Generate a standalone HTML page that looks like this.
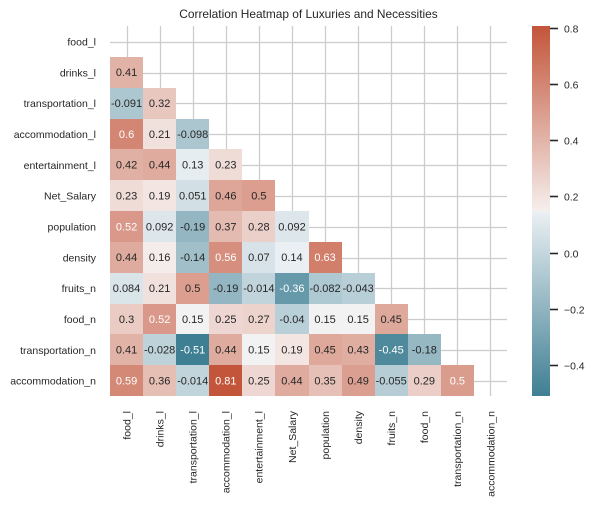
<!DOCTYPE html>
<html>
<head>
<meta charset="utf-8">
<style>
html,body{margin:0;padding:0;background:#fff;}
body{width:594px;height:506px;overflow:hidden;}
svg{display:block;font-family:"Liberation Sans",Arial,sans-serif;}
</style>
</head>
<body>
<svg id="chart" xmlns="http://www.w3.org/2000/svg" width="594" height="506" viewBox="0 0 594 506">
<defs><linearGradient id="cbar-grad" x1="0" y1="1" x2="0" y2="0"></linearGradient></defs>
<rect x="0" y="0" width="594" height="506" fill="#fff"/>
<text x="308.5" y="18" text-anchor="middle" font-size="11.9" fill="#262626">Correlation Heatmap of Luxuries and Necessities</text>
<g id="grid"></g>
<g id="cells"></g>
<g id="ylabels"></g>
<g id="xlabels"></g>
<g id="colorbar"></g>
</svg>
<script>
const categories = ["food_l","drinks_l","transportation_l","accommodation_l","entertainment_l","Net_Salary","population","density","fruits_n","food_n","transportation_n","accommodation_n"];
const row1 = [0.41];
const row2 = [-0.091,0.32];
const row3 = [0.6,0.21,-0.098];
const row4 = [0.42,0.44,0.13,0.23];
const row5 = [0.23,0.19,0.051,0.46,0.496];
const row6 = [0.52,0.092,-0.19,0.37,0.28,0.092];
const row7 = [0.44,0.16,-0.14,0.56,0.07,0.14,0.63];
const row8 = [0.084,0.21,0.496,-0.19,-0.014,-0.36,-0.082,-0.043];
const row9 = [0.3,0.52,0.15,0.25,0.27,-0.04,0.15,0.15,0.45];
const row10 = [0.41,-0.028,-0.51,0.44,0.15,0.19,0.45,0.43,-0.45,-0.18];
const row11 = [0.59,0.36,-0.014,0.81,0.25,0.44,0.35,0.49,-0.055,0.29,0.504];
const matrixRows = [row1,row2,row3,row4,row5,row6,row7,row8,row9,row10,row11];
const colorbarTicks = [-0.4,-0.2,0,0.2,0.4,0.6,0.8];
const scaleMin = -0.51;
const scaleMax = 0.81;

const NS = "http://www.w3.org/2000/svg";
const plotLeft = 110, plotRight = 507, plotTop = 26, plotBottom = 396;
const cbLeft = 532, cbRight = 550;
const n = categories.length;
const cellW = (plotRight - plotLeft) / n;
const cellH = (plotBottom - plotTop) / n;
const xAt = i => plotLeft + i * cellW;
const yAt = i => plotTop + i * cellH;
const cbY = v => plotBottom - (v - scaleMin) / (scaleMax - scaleMin) * (plotBottom - plotTop);

const cmap = [
  [0, [63,127,147]],
  [0.498, [235,240,243]],
  [0.5, [242,242,242]],
  [0.502, [245,238,236]],
  [1, [195,85,58]]
];
function colorAt(t){
  t = Math.max(0, Math.min(1, t));
  for (let i = 1; i < cmap.length; i++){
    if (t <= cmap[i][0]){
      const f = (t - cmap[i-1][0]) / (cmap[i][0] - cmap[i-1][0]);
      return cmap[i-1][1].map((c,k) => c + (cmap[i][1][k] - c) * f);
    }
  }
  return cmap[cmap.length-1][1];
}
const css = c => "rgb(" + c.map(Math.round).join(",") + ")";
function luminance(c){
  const l = c.map(v => { v /= 255; return v <= 0.03928 ? v / 12.92 : Math.pow((v + 0.055) / 1.055, 2.4); });
  return 0.2126 * l[0] + 0.7152 * l[1] + 0.0722 * l[2];
}
const fmt = v => String(parseFloat(v.toPrecision(2)));
function mk(tag, parent, attrs, text){
  const el = document.createElementNS(NS, tag);
  for (const k in attrs) el.setAttribute(k, attrs[k]);
  if (text !== undefined) el.textContent = text;
  parent.appendChild(el);
  return el;
}

const gridG = document.getElementById("grid");
categories.forEach((c, i) => {
  const cx = Math.round(xAt(i + 0.5)) + 0.5;
  const cy = Math.round(yAt(i + 0.5) + 0.4) + 0.5;
  const v = mk("line", gridG, {x1:cx, x2:cx, y1:plotTop, y2:plotBottom, stroke:"#cccccc", "stroke-width":1.3});
  
  
  const h = mk("line", gridG, {x1:plotLeft, x2:plotRight, y1:cy, y2:cy, stroke:"#cccccc", "stroke-width":1.3});
  
  
});

const cellsG = document.getElementById("cells");
matrixRows.forEach((row, r) => {
  row.forEach((val, c) => {
    const col = colorAt((val - scaleMin) / (scaleMax - scaleMin));
    const x0 = Math.round(xAt(c)), x1 = Math.round(xAt(c + 1));
    const y0 = Math.round(yAt(r + 1)), y1 = Math.round(yAt(r + 2));
    const rect = mk("rect", cellsG, {x:x0, y:y0, width:x1 - x0, height:y1 - y0, fill:css(col)});
    
    
    const txt = mk("text", cellsG, {x:xAt(c + 0.5), y:yAt(r + 1.5) + 3.9, "text-anchor":"middle", "font-size":11, fill:luminance(col) < 0.408 ? "#ffffff" : "#262626"}, fmt(val));
    
    
  });
});

const yG = document.getElementById("ylabels");
categories.forEach((c, i) => {
  const t = mk("text", yG, {x:96, y:yAt(i + 0.5) + 4, "text-anchor":"end", "font-size":10.5, fill:"#262626"}, c);
  
  
});

const xG = document.getElementById("xlabels");
categories.forEach((c, i) => {
  const px = xAt(i + 0.5) + 3.8, py = 411;
  const t = mk("text", xG, {x:px, y:py, transform:"rotate(-90 " + px + " " + py + ")", "text-anchor":"end", "font-size":10.5, fill:"#262626"}, c);
  
  
});

const grad = document.getElementById("cbar-grad");
cmap.forEach(s => {
  mk("stop", grad, {offset:s[0], "stop-color":css(s[1])});
});
const cbG = document.getElementById("colorbar");
const cbRect = mk("rect", cbG, {x:cbLeft, y:plotTop, width:cbRight - cbLeft, height:plotBottom - plotTop, fill:"url(#cbar-grad)"});


colorbarTicks.forEach(v => {
  const y = Math.floor(cbY(v)) + 0.5;
  const tk = mk("line", cbG, {x1:cbRight, x2:cbRight + 8, y1:y, y2:y, stroke:"#262626", "stroke-width":1.6});
  
  
  const lb = mk("text", cbG, {x:564, y:y + 3.8, "font-size":10.4, fill:"#262626"}, (v < 0 ? "\u2212" : "") + Math.abs(v).toFixed(1));
  
  
});
</script>
</body>
</html>
